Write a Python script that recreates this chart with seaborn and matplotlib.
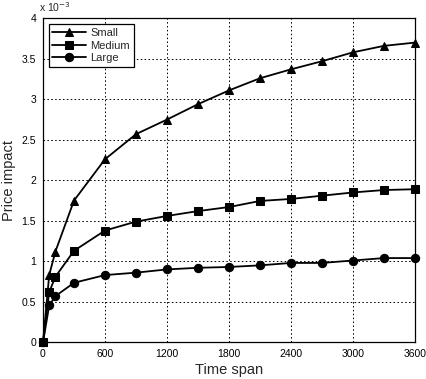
import numpy as np
import pandas as pd
import matplotlib
matplotlib.use("Agg")
import matplotlib.pyplot as plt
import seaborn as sns

# ─────────────────────────────────────────────
# DATA (price impact in units of 1e-3)
# ─────────────────────────────────────────────
time_span = [0, 60, 120, 300, 600, 900, 1200, 1500, 1800, 2100, 2400, 2700, 3000, 3300, 3600]
small = [0, 0.83, 1.12, 1.75, 2.26, 2.57, 2.75, 2.94, 3.11, 3.26, 3.37, 3.47, 3.58, 3.66, 3.70]
medium = [0, 0.62, 0.81, 1.13, 1.38, 1.49, 1.56, 1.62, 1.67, 1.745, 1.77, 1.81, 1.85, 1.88, 1.89]
large = [0, 0.455, 0.57, 0.735, 0.83, 0.86, 0.90, 0.92, 0.93, 0.95, 0.98, 0.98, 1.01, 1.04, 1.04]
groups = ["Small", "Medium", "Large"]

x_ticks = [0, 600, 1200, 1800, 2400, 3000, 3600]
y_ticks = [0, 0.5, 1, 1.5, 2, 2.5, 3, 3.5, 4]
y_tick_labels = ["0", "0.5", "1", "1.5", "2", "2.5", "3", "3.5", "4"]

df = pd.DataFrame({
    "Time span": time_span * 3,
    "Price impact": small + medium + large,
    "Size": [g for g in groups for _ in time_span],
})

# ─────────────────────────────────────────────
# PLOT
# ─────────────────────────────────────────────
sns.set_style("white")
plt.rcParams["font.family"] = ["Liberation Sans", "DejaVu Sans"]

fig = plt.figure(figsize=(4.27, 3.79), dpi=100)
ax = fig.add_axes([0.1007, 0.0968, 0.8712, 0.8549])

sns.lineplot(data=df, x="Time span", y="Price impact", style="Size",
             markers=["^", "s", "o"], dashes=False, color="black",
             linewidth=1.3, markersize=6, markeredgecolor="black", ax=ax)
for ln in ax.lines:
    ln.set_clip_on(False)
    ln.set_zorder(3)

ax.set_xlim(0, 3600)
ax.set_ylim(0, 4)
ax.set_xticks(x_ticks)
ax.set_xticklabels([str(t) for t in x_ticks], fontsize=7.5)
ax.set_yticks(y_ticks)
ax.set_yticklabels(y_tick_labels, fontsize=7.5)
ax.tick_params(direction="in", length=3, width=0.8, colors="black", pad=5)
ax.grid(True, color="black", linestyle=(0, (1.6, 2.4)), linewidth=0.7)
for s in ax.spines.values():
    s.set_color("black")
    s.set_linewidth(0.9)
    s.set_zorder(2)

ax.set_xlabel("Time span", fontsize=10.5, labelpad=3)
ax.set_ylabel("Price impact", fontsize=10.5, labelpad=4)
ax.text(-0.01, 1.012, r"x 10$^{-3}$", transform=ax.transAxes, fontsize=7.5,
        ha="left", va="bottom")

leg = ax.legend(loc="upper left", fontsize=8, handlelength=3.0,
                fancybox=False, framealpha=1, borderaxespad=0.5,
                labelspacing=0.25, handletextpad=0.4, borderpad=0.35)
leg.get_frame().set_edgecolor("black")
leg.get_frame().set_linewidth(0.9)

fig.savefig("out.png", dpi=100)
